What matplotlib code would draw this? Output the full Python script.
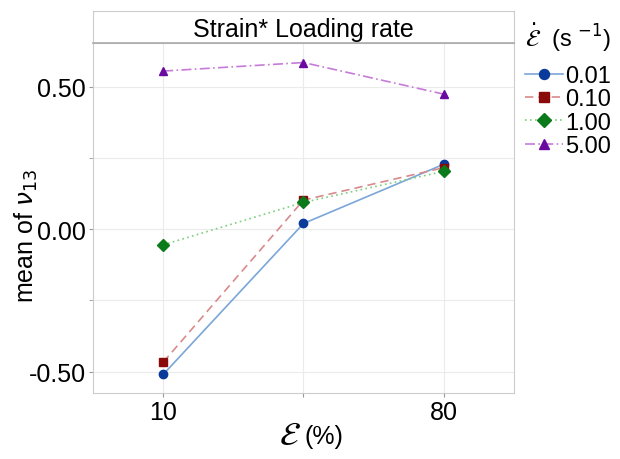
import matplotlib.pyplot as plt

plt.rcParams["font.family"] = ["Liberation Sans", "DejaVu Sans"]

strain = ["10", "", "80"]
rates = ["0.01", "0.10", "1.00", "5.00"]
nu_001 = [-0.51, 0.02, 0.228]
nu_010 = [-0.467, 0.102, 0.216]
nu_100 = [-0.055, 0.094, 0.203]
nu_500 = [0.555, 0.585, 0.474]

series = [nu_001, nu_010, nu_100, nu_500]
line_cols = ["#7aa6d8", "#d98a8a", "#7ccf7c", "#c77ad9"]
mark_cols = ["#0a3a9a", "#8a0a0a", "#0a7a1a", "#6a0aa0"]
styles = ["-", (0, (5, 3)), (0, (1, 2)), (0, (6, 2, 1, 2))]
markers = ["o", "s", "D", "^"]

fig = plt.figure(figsize=(6.2, 4.6), dpi=100)
ax = fig.add_axes([0.15, 0.1435, 0.679, 0.7605])
x = range(len(strain))
for vals, lc, mc, ls, mk, lab in zip(series, line_cols, mark_cols, styles, markers, rates):
    ax.plot(x, vals, color=lc, linestyle=ls, lw=1.2, marker=mk, ms=6,
            markerfacecolor=mc, markeredgecolor=mc, label=lab)

ax.set_xlim(-0.5, 2.5)
ax.set_ylim(-0.575, 0.653)
ax.set_xticks(list(x))
ax.set_xticklabels(strain, fontsize=18)
ax.set_yticks([-0.5, 0.0, 0.5])
ax.set_yticklabels(["-0.50", "0.00", "0.50"], fontsize=18)
ax.set_yticks([-0.25, 0.25], minor=True)
ax.grid(True, which="both", color="#ebebeb", lw=0.8)
ax.set_axisbelow(True)
ax.tick_params(axis="both", which="both", length=3, color="#999999", pad=2)
for s in ax.spines.values():
    s.set_color("#cccccc")

# axis titles, placed in figure pixels like the original
fig.text(26 / 620, 1 - 236 / 460, r"mean of $\mathit{\nu}_{13}$", rotation=90,
         ha="center", va="center", fontsize=18)
fig.text(290 / 620, 1 - 437 / 460, r"$\mathcal{E}$", ha="center",
         va="center", fontsize=24)
fig.text(305 / 620, 1 - 437 / 460, "(%)", ha="left",
         va="center", fontsize=18)

# strip on top
sax = fig.add_axes([0.15, 0.904, 0.679, 0.0696])
sax.set_xticks([])
sax.set_yticks([])
for k, s in sax.spines.items():
    s.set_color("#cccccc")
sax.spines["bottom"].set_color("#aaaaaa")
sax.spines["bottom"].set_linewidth(1.2)
sax.text(0.5, 0.45, "Strain* Loading rate", ha="center", va="center",
         fontsize=18, transform=sax.transAxes)

leg = ax.legend(loc="upper left", bbox_to_anchor=(516 / 620, 0.975),
                bbox_transform=fig.transFigure, frameon=False, fontsize=17,
                title=r"$\dot{\mathcal{E}}$  (s $^{-1}$)", title_fontsize=17,
                handlelength=1.6, handletextpad=0.1, labelspacing=0.05,
                borderaxespad=0, markerscale=1.2)
leg._legend_box.align = "left"
leg._legend_box.sep = 9

fig.savefig("out.png", dpi=100)
